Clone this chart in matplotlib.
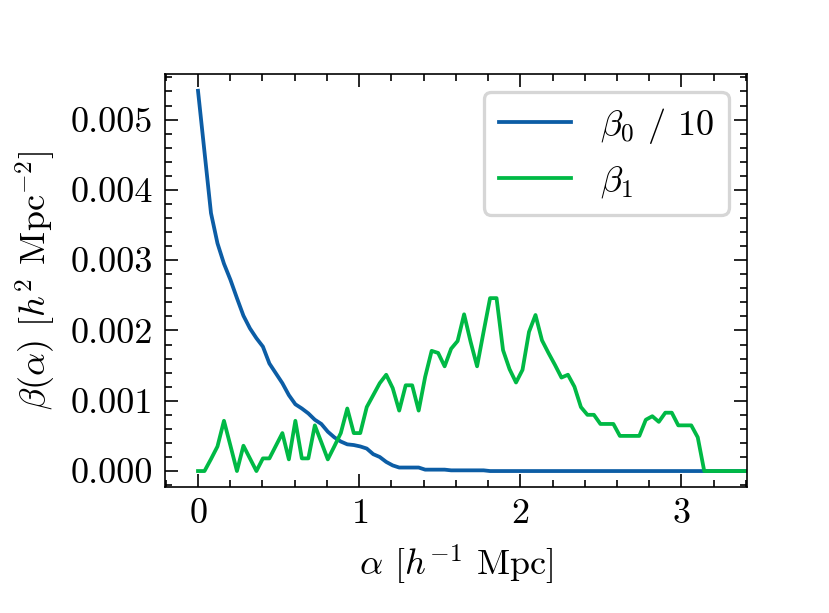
import numpy as np
import matplotlib
matplotlib.use("Agg")
import matplotlib.pyplot as plt
from matplotlib.ticker import MultipleLocator, FormatStrFormatter

plt.rcParams.update({
    "font.family": "serif",
    "font.serif": ["cmr10", "DejaVu Serif"],
    "mathtext.fontset": "cm",
    "axes.unicode_minus": False,
    "axes.formatter.use_mathtext": True,
    "font.size": 11,
    "axes.linewidth": 0.5,
    "xtick.direction": "in",
    "ytick.direction": "in",
    "xtick.top": True,
    "ytick.right": True,
    "xtick.major.size": 3.9,
    "ytick.major.size": 3.9,
    "xtick.minor.size": 2.0,
    "ytick.minor.size": 2.0,
    "xtick.major.width": 0.5,
    "ytick.major.width": 0.5,
    "xtick.minor.width": 0.5,
    "ytick.minor.width": 0.5,
    "xtick.minor.visible": True,
    "ytick.minor.visible": True,
})

# alpha grid (step ~ pi/78)
alpha = np.arange(86) * (np.pi / 78)

beta0_over10 = [
    0.00541, 0.00454, 0.00367, 0.00324, 0.00295, 0.00272, 0.00246, 0.00221,
    0.00203, 0.00189, 0.00177, 0.00153, 0.00139, 0.00125, 0.00108, 0.00095,
    0.00089, 0.00082, 0.00073, 0.00067, 0.00056, 0.00048, 0.00042, 0.00038,
    0.00037, 0.00035, 0.00032, 0.00024, 0.00020, 0.00013, 0.00008, 0.00005,
    0.00005, 0.00005, 0.00005, 0.00002, 0.00002, 0.00002, 0.00002, 0.00001,
    0.00001, 0.00001, 0.00001, 0.00001, 0.00001, 0.0, 0.0, 0.0,
    0.0, 0.0, 0.0, 0.0, 0.0, 0.0, 0.0, 0.0,
    0.0, 0.0, 0.0, 0.0, 0.0, 0.0, 0.0, 0.0,
    0.0, 0.0, 0.0, 0.0, 0.0, 0.0, 0.0, 0.0,
    0.0, 0.0, 0.0, 0.0, 0.0, 0.0, 0.0, 0.0,
    0.0, 0.0, 0.0, 0.0, 0.0, 0.0,
]

beta1 = [
    0.0, 0.0, 0.00017, 0.00035, 0.000715, 0.00036, 0.0, 0.00036,
    0.00018, 0.0, 0.00018, 0.00018, 0.00036, 0.00054, 0.000166, 0.000715,
    0.00018, 0.00018, 0.00065, 0.00041, 0.000166, 0.00035, 0.00054, 0.00089,
    0.00054, 0.00054, 0.00091, 0.00108, 0.00125, 0.00137, 0.00118, 0.00086,
    0.00122, 0.00122, 0.00086, 0.00134, 0.00171, 0.00168, 0.00149, 0.00174,
    0.00185, 0.00223, 0.00184, 0.00149, 0.00198, 0.00246, 0.00246, 0.00172,
    0.00145, 0.00126, 0.00144, 0.00198, 0.00222, 0.00186, 0.00168, 0.00151,
    0.00133, 0.00137, 0.00120, 0.00091, 0.00080, 0.00080, 0.00067, 0.00067,
    0.00067, 0.00050, 0.00050, 0.00050, 0.00050, 0.00073, 0.00078, 0.00070,
    0.00083, 0.00083, 0.00065, 0.00065, 0.00065, 0.00048, 0.0, 0.0,
    0.0, 0.0, 0.0, 0.0, 0.0, 0.0,
]

dpi = 236.86
fig = plt.figure(figsize=(829 / dpi, 613 / dpi), dpi=dpi)
ax = fig.add_axes([0.199, 0.206, 0.7017, 0.674])

ax.plot(alpha, beta0_over10, color="#0C5DA5", lw=1.15, label=r"$\beta_0$ / 10")
ax.plot(alpha, beta1, color="#00B945", lw=1.15, label=r"$\beta_1$")

ax.set_xlim(-0.205, 3.405)
ax.set_ylim(-0.000223, 0.005655)
ax.xaxis.set_major_locator(MultipleLocator(1))
ax.xaxis.set_minor_locator(MultipleLocator(0.2))
ax.yaxis.set_major_locator(MultipleLocator(0.001))
ax.yaxis.set_minor_locator(MultipleLocator(0.0002))
ax.yaxis.set_major_formatter(FormatStrFormatter("%.3f"))

ax.set_xlabel(r"$\alpha$ [$h^{-1}$ Mpc]")
ax.set_ylabel(r"$\beta(\alpha)$ [$h^2$ Mpc$^{-2}$]")

ax.legend(loc="upper right", frameon=True)

fig.savefig("out.png", dpi=dpi)
